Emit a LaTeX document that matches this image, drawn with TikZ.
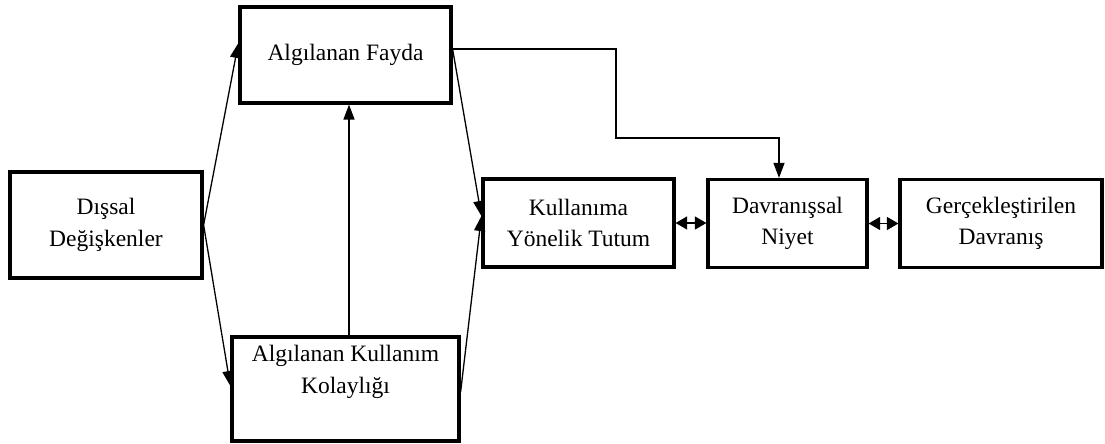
\documentclass[tikz,border=0pt]{standalone}
\usepackage{fontspec}
\setmainfont{Liberation Serif}
\usetikzlibrary{arrows.meta}
\begin{document}
\begin{tikzpicture}[x=1pt,y=-1pt,
  box/.style={draw,line width=3.2pt,inner sep=0pt,align=center,
    font=\fontsize{23.5}{31.5}\selectfont},
  txt/.style={inner sep=0pt,align=center,font=\fontsize{23.5}{31.5}\selectfont},
  link/.style={line width=1.3pt},
  arr/.style={link,-{Triangle[length=15pt,width=11pt]}},
  dbl/.style={link,{Triangle[length=11.5pt,width=13pt]}-{Triangle[length=11.5pt,width=13pt]}}]
  \useasboundingbox (0,0) rectangle (1105,444);

  % boxes
  \node[box,minimum width=192pt,minimum height=106pt] (dis) at (106,225) {Dışsal\\Değişkenler};
  \node[box,minimum width=211pt,minimum height=96pt] (fayda) at (345.5,55) {Algılanan Fayda};
  \node[box,minimum width=227pt,minimum height=104pt] (kol) at (345.5,389) {};
  \node[txt] (kolt) at (345.5,372) {Algılanan Kullanım\\Kolaylığı};
  \node[box,minimum width=191pt,minimum height=88pt] (kul) at (578.5,223) {Kullanıma\\Yönelik Tutum};
  \node[box,minimum width=159pt,minimum height=88pt] (niyet) at (787.5,223.5) {Davranışsal\\Niyet};
  \node[box,minimum width=202pt,minimum height=88pt] (ger) at (1001,223.5) {Gerçekleştirilen\\Davranış};

  % corners of the elbow connector
  \coordinate (e1) at (616,49);
  \coordinate (e2) at (616,138);
  \coordinate (e3) at (779,138);

  % connectors
  \draw[arr] (dis.east) -- ([yshift=12pt]fayda.west);
  \draw[arr] (dis.east) -- ([yshift=3pt]kol.west);
  \draw[arr] ([xshift=3.5pt]kol.north) -- ([xshift=3.5pt]fayda.south);
  \draw[arr] ([yshift=6pt]fayda.east) -- ([yshift=7pt]kul.west);
  \draw[arr] ([yshift=-3pt]kol.east) -- ([yshift=7pt]kul.west);
  \draw[arr] ([yshift=6pt]fayda.east) -- (e1) -- (e2) -- (e3) -- (e3 |- niyet.north);
  \draw[dbl] (kul.east) -- (kul.east -| niyet.west);
  \draw[dbl] (niyet.east) -- (niyet.east -| ger.west);
\end{tikzpicture}
\end{document}
